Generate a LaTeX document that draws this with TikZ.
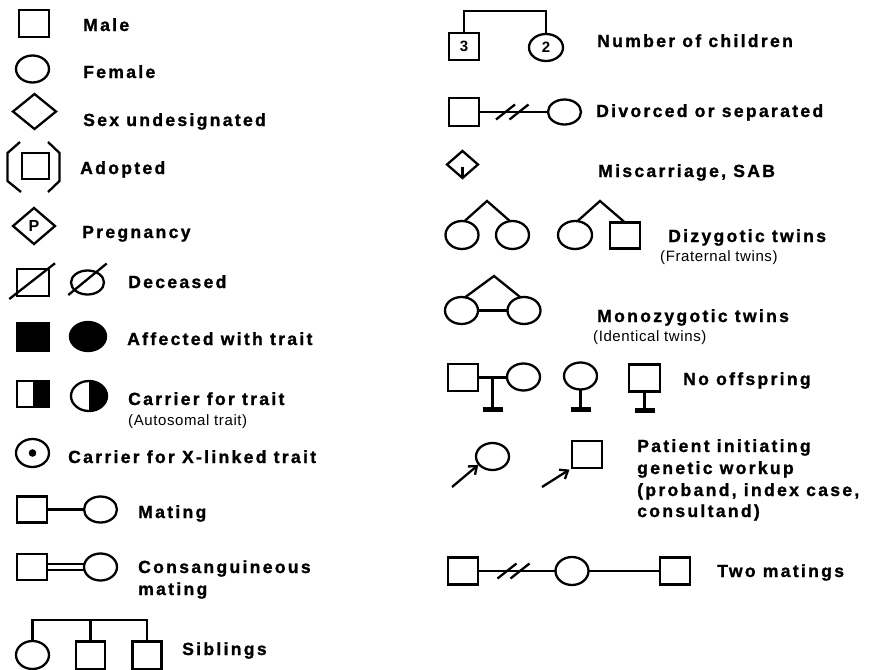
\documentclass[tikz,border=0pt]{standalone}
\usepackage{fontspec}
\usetikzlibrary{shapes.geometric,arrows.meta,calc}
\newfontfamily\labfamily{Liberation Sans}[LetterSpace=13,FakeBold=1.2]
\newfontfamily\subfamily{Liberation Sans}[LetterSpace=4]
\newfontfamily\plainfamily{Liberation Sans}
\newcommand\labfont{\labfamily\bfseries\fontsize{17.6pt}{21pt}\selectfont}
\newcommand\subfont{\subfamily\fontsize{15pt}{18pt}\selectfont}
\newcommand\numfont{\plainfamily\bfseries\fontsize{15pt}{18pt}\selectfont}
\tikzset{
  sym/.style={draw, line width=2.3pt, inner sep=0pt, outer sep=0pt},
  male/.style={sym, rectangle, minimum width=30pt, minimum height=27pt},
  female/.style={sym, ellipse, minimum width=33pt, minimum height=27pt},
  undes/.style={sym, diamond},
  lab/.style={anchor=base west, inner sep=0pt, font=\labfont},
  sublab/.style={anchor=base west, inner sep=0pt, font=\subfont},
  link/.style={line width=2.3pt},
  barline/.style={line width=5pt},
  proarrow/.style={line width=2.3pt, -{Straight Barb[length=7pt,width=11pt]}},
}
\begin{document}
\begin{tikzpicture}[x=1pt,y=-1pt]
\useasboundingbox (0,0) rectangle (871,670);
\clip (0,0) rectangle (871,670);
\fill[white] (0,0) rectangle (871,670);

% ---------- left column ----------
\node[male] (m1) at (34,23.5) {};
\node[lab] (tm) at (83,31) {Male};

\node[female] (f1) at (32.5,69) {};
\node[lab] (tf) at (83,78) {Female};

\node[undes, minimum width=43pt, minimum height=35pt] (d1) at (34.5,111.5) {};
\node[lab] (ts) at (83,126) {Sex undesignated};

\node[male, minimum width=27pt, minimum height=26pt] (a1) at (35.5,166) {};
\draw[link, line join=miter] (20,142) -- (7.5,153) -- (7.5,181) -- (21,192);
\draw[link, line join=miter] (48,142) -- (59.5,153) -- (59.5,181) -- (48,192);
\node[lab] (ta) at (80,174) {Adopted};

\node[undes, minimum width=42pt, minimum height=36pt, font=\numfont\fontsize{16pt}{18pt}\selectfont] (p1) at (34,226) {P};
\node[lab] (tp) at (82,238) {Pregnancy};

\node[male, minimum width=32pt, minimum height=27pt] (dc1) at (33,282.5) {};
\draw[link] (dc1.center) ++(-23.7,16.5) -- ++(45.7,-35.7);
\node[female, minimum width=33pt, minimum height=24pt] (dc2) at (87.5,282.5) {};
\draw[link] (dc2.center) ++(-19.2,12.5) -- ++(38.4,-31.5);
\node[lab] (td) at (128,288) {Deceased};

\node[male, fill=black, minimum width=32pt, minimum height=28pt] (af1) at (33,337) {};
\node[female, fill=black, minimum width=36pt, minimum height=29pt] (af2) at (88,336.5) {};
\node[lab] (taf) at (127,345) {Affected with trait};

\node[male, minimum width=32pt, minimum height=26pt] (c1) at (33,394) {};
\fill (c1.north) rectangle (c1.south east);
\draw[line width=2.3pt] (c1.north west) rectangle (c1.south east);
\node[female, minimum width=36pt, minimum height=30pt] (c2) at (89,396) {};
\fill (c2.north) arc[start angle=90, end angle=-90, x radius=18pt, y radius=15pt] -- cycle;
\node[lab] (tc) at (128,405) {Carrier for trait};
\node[sublab] (tc2) at (128,425) {(Autosomal trait)};

\node[female, minimum height=28pt] (x1) at (32.5,453) {};
\fill (x1.center) circle[radius=3.8pt];
\node[lab] (tx) at (68,463) {Carrier for X-linked trait};

\node[male, minimum height=26pt] (mt1) at (32,509.5) {};
\node[female, minimum height=26pt] (mt2) at (100.5,509.5) {};
\draw[link] (mt1.east) -- (mt2.west);
\node[lab] (tmt) at (138,518) {Mating};

\node[male, minimum height=26pt] (cs1) at (32,567) {};
\node[female] (cs2) at (100.5,567) {};
\draw[link, line width=1.9pt] ([yshift=2.7pt]cs1.east) -- ([yshift=2.7pt]cs2.west);
\draw[link, line width=1.9pt] ([yshift=-2.7pt]cs1.east) -- ([yshift=-2.7pt]cs2.west);
\node[lab] (tcs) at (138,573) {Consanguineous};
\node[lab] (tcs2) at (138,595) {mating};

\node[female, minimum height=28pt] (sb1) at (32.5,655) {};
\node[male, minimum width=29pt, minimum height=28pt] (sb2) at (90.5,655.5) {};
\node[male, minimum width=29pt, minimum height=28pt] (sb3) at (147,655.5) {};
\coordinate (sbtop) at (0,620);
\draw[link] (sb1.north) -- (sb1.north |- sbtop) -- (sb3.north |- sbtop) -- (sb3.north);
\draw[link] (sb2.north) -- (sb2.north |- sbtop);
\node[lab] (tsb) at (182,655) {Siblings};

% ---------- right column ----------
\node[male, font=\numfont] (n1) at (464,46.5) {3};
\node[female, minimum width=34pt, font=\numfont] (n2) at (546,47.5) {2};
\coordinate (ntop) at (0,11);
\draw[link] (n1.north) -- (n1.north |- ntop) -- (n2.north |- ntop) -- (n2.north);
\node[lab] (tn) at (597,47) {Number of children};

\node[male, minimum height=28pt] (dv1) at (464,112) {};
\node[female, minimum height=25pt] (dv2) at (564.5,112) {};
\draw[link] (dv1.east) -- (dv2.west);
\draw[link] (505.5,112) ++(-9.5,7.5) -- ++(19,-15);
\draw[link] (519,112) ++(-9.5,7.5) -- ++(19,-15);
\node[lab] (tdv) at (596,117) {Divorced or separated};

\node[undes, minimum width=31pt, minimum height=27pt] (ms) at (462.5,164.5) {};
\draw[link] ([yshift=-2pt]ms.center) -- (ms.south);
\node[lab] (tms) at (598,177) {Miscarriage, SAB};

\node[female, minimum height=28pt] (z1) at (462,235) {};
\node[female, minimum height=28pt] (z2) at (512.5,235) {};
\coordinate (zap1) at (487,201);
\draw[link] (z1.80) -- (zap1) -- (z2.100);
\node[female, minimum width=34pt, minimum height=28pt] (z3) at (575,235) {};
\node[male, minimum height=26pt] (z4) at (625,235.5) {};
\coordinate (zap2) at (600,201);
\draw[link] (z3.80) -- (zap2) -- (z4.north);
\node[lab] (tz) at (668,242) {Dizygotic twins};
\node[sublab] (tz2) at (660,261) {(Fraternal twins)};

\node[female] (mz1) at (461.5,310.5) {};
\node[female] (mz2) at (524,310.5) {};
\coordinate (mzap) at (494,276);
\draw[link] (mz1.75) -- (mzap) -- (mz2.105);
\draw[link] (mz1.east) -- (mz2.west);
\node[lab] (tmz) at (597,322) {Monozygotic twins};
\node[sublab] (tmz2) at (593,341) {(Identical twins)};

\node[male] (no1) at (463,377.5) {};
\node[female] (no2) at (523.5,377) {};
\draw[link] (no1.east) -- (no2.west |- no1.east) coordinate[pos=0.5] (nom);
\coordinate (nob1) at (nom |- 0,409.5);
\draw[link] (nom) -- (nob1);
\draw[barline] ([xshift=-10pt]nob1) -- ([xshift=10pt]nob1);
\node[female, minimum height=27pt] (no3) at (580.5,376) {};
\coordinate (nob2) at (no3.south |- 0,409.5);
\draw[link] (no3.south) -- (nob2);
\draw[barline] ([xshift=-10pt]nob2) -- ([xshift=10pt]nob2);
\node[male, minimum width=31pt, minimum height=27pt] (no4) at (644.5,378) {};
\coordinate (nob3) at (no4.south |- 0,410);
\draw[link] (no4.south) -- (nob3);
\draw[barline] ([xshift=-10pt]nob3) -- ([xshift=10pt]nob3);
\node[lab] (tno) at (683,385) {No offspring};

\node[female] (pr1) at (492.5,456.5) {};
\coordinate (pa1) at (452,487);
\draw[proarrow, shorten >=1pt] (pa1) -- (pr1.210);
\node[male] (pr2) at (587,454.5) {};
\coordinate (pa2) at (542,487);
\draw[proarrow, shorten >=3pt] (pa2) -- (pr2.south west);
\node[lab] (tpr1) at (637,452) {Patient initiating};
\node[lab] (tpr2) at (637,474) {genetic workup};
\node[lab] (tpr3) at (637,496) {(proband, index case,};
\node[lab] (tpr4) at (637,517) {consultand)};

\node[male] (tw1) at (463,571) {};
\node[female, minimum height=28pt] (tw2) at (572,571) {};
\node[male] (tw3) at (675,571) {};
\draw[link] (tw1.east) -- (tw2.west);
\draw[link] (tw2.east) -- (tw3.west);
\draw[link] (507,571) ++(-9.5,7.5) -- ++(19,-15);
\draw[link] (520,571) ++(-9.5,7.5) -- ++(19,-15);
\node[lab] (ttw) at (717,577) {Two matings};
\end{tikzpicture}
\end{document}
